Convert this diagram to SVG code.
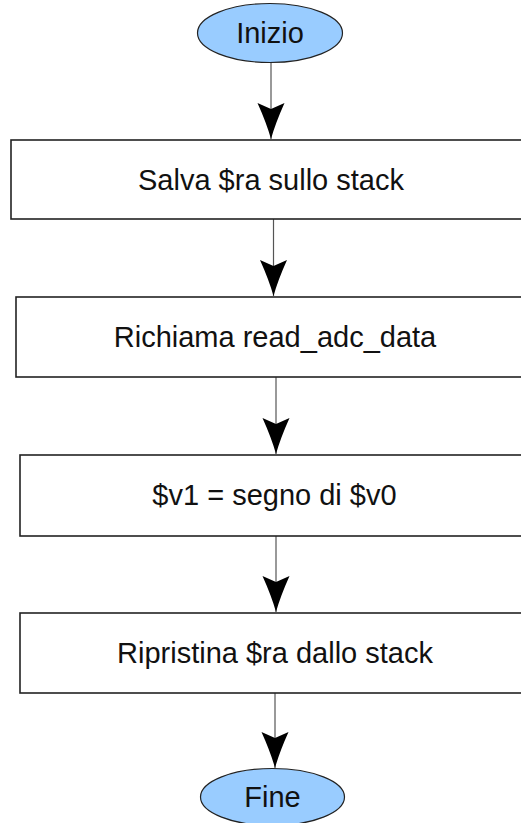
<svg xmlns="http://www.w3.org/2000/svg" width="521" height="823" viewBox="0 0 521 823">
  <style>
    .term { fill: #99ccff; stroke: #222; stroke-width: 1.2; }
    .box { fill: #fff; stroke: #222; stroke-width: 1.6; }
    .label { font-family: "Liberation Sans", Arial, sans-serif; font-size: 29px; fill: #111; text-anchor: middle; dominant-baseline: central; }
    .flow { stroke: #555; stroke-width: 1.2; fill: none; marker-end: url(#head); }
  </style>
  <defs>
    <!-- arrowhead drawn along +x, tip at the line end -->
    <marker id="head" markerUnits="userSpaceOnUse" markerWidth="38" markerHeight="28" viewBox="0 0 38 28" refX="37" refY="14" orient="auto">
      <path d="M37,14 Q21,9.5 1,0.5 L7,14 L1,27.5 Q21,18.5 37,14 Z" fill="#000"/>
    </marker>
  </defs>
  <rect width="521" height="823" fill="#fff"/>

  <g id="connectors">
    <line class="flow" x1="271" y1="63" x2="271" y2="139"/>
    <line class="flow" x1="273.5" y1="219" x2="273.5" y2="296"/>
    <line class="flow" x1="276" y1="377" x2="276" y2="454"/>
    <line class="flow" x1="276" y1="536" x2="276" y2="612"/>
    <line class="flow" x1="275" y1="693" x2="275" y2="768"/>
  </g>

  <g id="start">
    <ellipse class="term" cx="270" cy="33" rx="72.5" ry="29.5"/>
    <text class="label" x="270" y="33">Inizio</text>
  </g>

  <g id="save-ra">
    <rect class="box" x="11" y="140" width="525" height="79"/>
    <text class="label" x="271" y="180">Salva $ra sullo stack</text>
  </g>

  <g id="call-read">
    <rect class="box" x="16" y="297" width="525" height="80"/>
    <text class="label" x="275" y="337">Richiama read_adc_data</text>
  </g>

  <g id="sign">
    <rect class="box" x="20" y="455" width="525" height="81"/>
    <text class="label" x="274.5" y="495">$v1 = segno di $v0</text>
  </g>

  <g id="restore-ra">
    <rect class="box" x="20" y="613" width="525" height="80"/>
    <text class="label" x="275" y="653">Ripristina $ra dallo stack</text>
  </g>

  <g id="end">
    <ellipse class="term" cx="272.5" cy="797" rx="72" ry="28.5"/>
    <text class="label" x="272.5" y="797">Fine</text>
  </g>
</svg>
